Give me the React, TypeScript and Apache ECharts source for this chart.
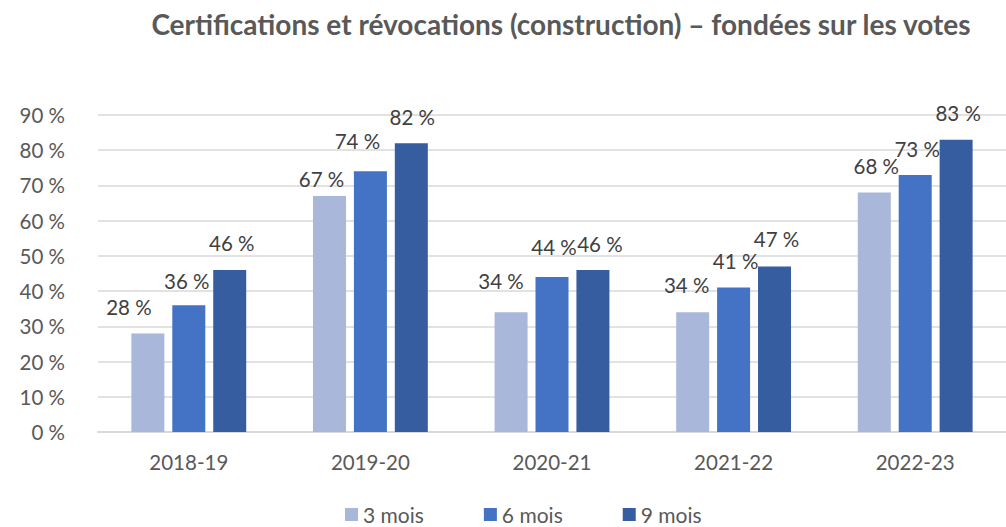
import React, { useEffect, useRef } from "react";
import * as echarts from "echarts";

const title = "Certifications et révocations (construction) – fondées sur les votes";
const categories = ["2018-19", "2019-20", "2020-21", "2021-22", "2022-23"];
const seriesNames = ["3 mois", "6 mois", "9 mois"];
const mois3 = [28, 67, 34, 34, 68];
const mois6 = [36, 74, 44, 41, 73];
const mois9 = [46, 82, 46, 47, 83];
const yTicks = [0, 10, 20, 30, 40, 50, 60, 70, 80, 90];

// label nudges (style only), per series per category
const labelNudges = [
  [[-21, 1], [-10, 10], [-12, -4], [-8, 0], [0, 1]],
  [[-4, 3], [-15, -3], [0, -3], [0, 0], [0, 1]],
  [[0, 0], [-1, 1], [5, 1], [0, 0], [0, 0]],
];
const colors = ["#A9B7DA", "#4472C4", "#375DA1"];
const FONT = "Lato, 'Open Sans', sans-serif";

export default function App() {
  const ref = useRef<HTMLDivElement>(null);
  useEffect(() => {
    if (!ref.current) return;
    const chart = echarts.init(ref.current, null, { renderer: "svg" });
    const all = [mois3, mois6, mois9];
    chart.setOption({
      animation: false,
      textStyle: { fontFamily: FONT },
      title: {
        text: title,
        left: 556,
        top: 5,
        textAlign: "center",
        textStyle: { fontFamily: FONT, fontSize: 28, fontWeight: "bold", color: "#595959" },
      },
      legend: {
        bottom: -3,
        left: 340,
        itemWidth: 13,
        itemHeight: 13,
        itemGap: 60,
        icon: "rect",
        textStyle: { fontFamily: FONT, fontSize: 21, color: "#595959" },
        data: seriesNames,
      },
      grid: { left: 98, top: 115, width: 925, height: 317, containLabel: false },
      xAxis: {
        type: "category",
        data: categories,
        axisTick: { show: false },
        axisLine: { lineStyle: { color: "#D9D9D9", width: 2 } },
        axisLabel: { fontFamily: FONT, fontSize: 20.5, color: "#595959", margin: 19 },
      },
      yAxis: {
        type: "value",
        min: yTicks[0],
        max: yTicks[yTicks.length - 1],
        interval: 10,
        axisLine: { show: false },
        axisTick: { show: false },
        axisLabel: {
          fontFamily: FONT,
          fontSize: 20.5,
          color: "#595959",
          margin: 33,
          formatter: (v: number) => `${v} %`,
        },
        splitLine: { lineStyle: { color: "#D9D9D9", width: 1.5 } },
      },
      series: seriesNames.map((name, si) => ({
        name,
        type: "bar",
        barWidth: 33,
        barGap: "24%",
        itemStyle: { color: colors[si] },
        data: all[si].map((v, ci) => ({
          value: v,
          label: { offset: [2 + labelNudges[si][ci][0], labelNudges[si][ci][1]] },
        })),
        label: {
          show: true,
          position: "top",
          distance: 16,
          fontFamily: FONT,
          fontSize: 20.5,
          lineHeight: 22,
          color: "#404040",
          formatter: (p: any) => `${p.value} %`,
        },
      })),
    });
    return () => chart.dispose();
  }, []);
  return (
    <div
      ref={ref}
      style={{ position: "fixed", left: 0, top: 0, width: 1006, height: 527, background: "#fff" }}
    />
  );
}
